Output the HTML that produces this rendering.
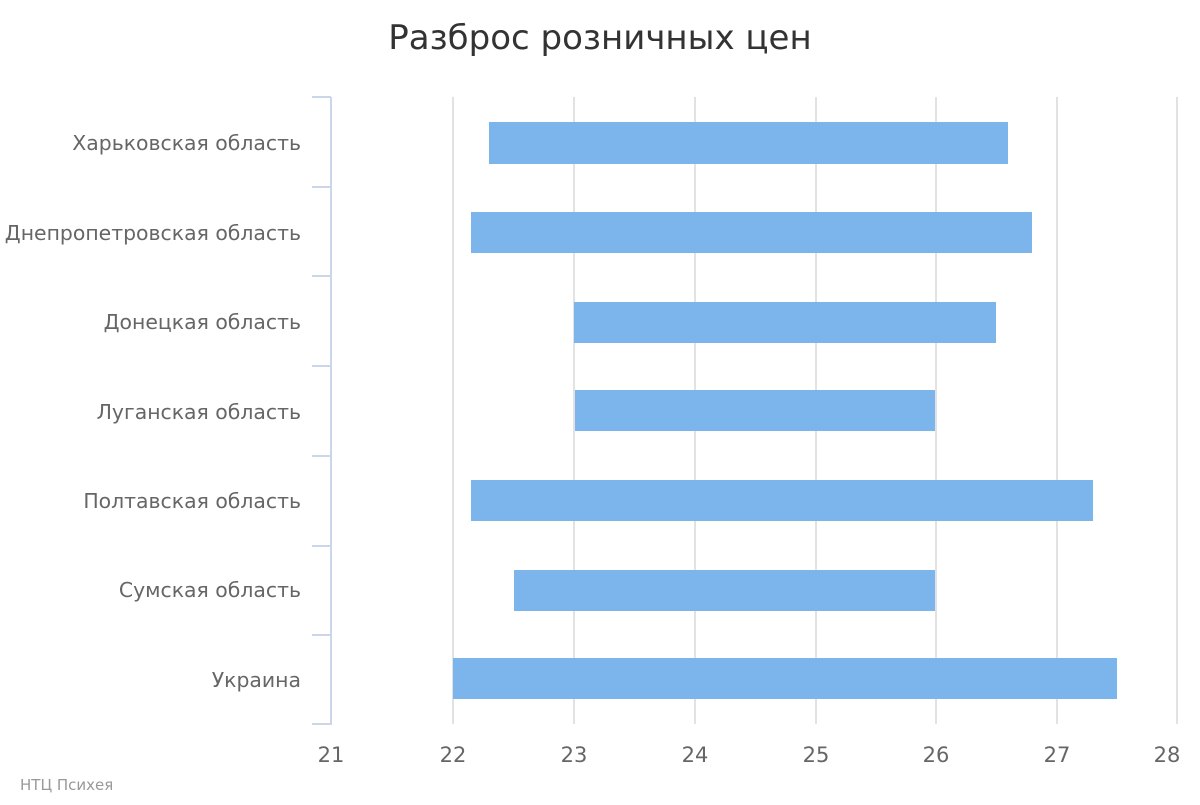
<!DOCTYPE html>
<html><head><meta charset="utf-8"><style>html,body{margin:0;padding:0;background:#fff}</style></head>
<body>
<svg width="1200" height="800" xmlns="http://www.w3.org/2000/svg" font-family="'DejaVu Sans','Liberation Sans',sans-serif">
<text x="600" y="49" text-anchor="middle" font-size="34" fill="#333">Разброс розничных цен</text>
<g stroke="#e2e2e2" stroke-width="2">
<line x1="453" y1="97" x2="453" y2="724"/><line x1="574" y1="97" x2="574" y2="724"/>
<line x1="695" y1="97" x2="695" y2="724"/><line x1="816" y1="97" x2="816" y2="724"/>
<line x1="936" y1="97" x2="936" y2="724"/><line x1="1057" y1="97" x2="1057" y2="724"/>
<line x1="1177" y1="97" x2="1177" y2="724"/>
</g>
<g stroke="#ccd6eb" stroke-width="2">
<line x1="331" y1="97" x2="331" y2="725"/>
<line x1="312" y1="97" x2="331" y2="97"/><line x1="312" y1="187" x2="331" y2="187"/>
<line x1="312" y1="276" x2="331" y2="276"/><line x1="312" y1="366" x2="331" y2="366"/>
<line x1="312" y1="456" x2="331" y2="456"/><line x1="312" y1="546" x2="331" y2="546"/>
<line x1="312" y1="635" x2="331" y2="635"/><line x1="312" y1="724" x2="331" y2="724"/>
</g>
<g fill="#7cb5ec">
<rect x="489" y="122" width="519" height="42"/>
<rect x="471" y="212" width="561" height="41"/>
<rect x="574" y="302" width="422" height="41"/>
<rect x="575" y="390" width="360" height="41"/>
<rect x="471" y="480" width="622" height="41"/>
<rect x="514" y="570" width="421" height="41"/>
<rect x="453" y="658" width="664" height="41"/>
</g>
<g font-size="20.4" fill="#666" text-anchor="end">
<text x="301" y="150">Харьковская область</text>
<text x="301" y="240">Днепропетровская область</text>
<text x="301" y="329">Донецкая область</text>
<text x="301" y="419">Луганская область</text>
<text x="301" y="508">Полтавская область</text>
<text x="301" y="597">Сумская область</text>
<text x="301" y="687">Украина</text>
</g>
<g font-size="21" fill="#666" text-anchor="middle">
<text x="331" y="762">21</text><text x="453" y="762">22</text><text x="574" y="762">23</text>
<text x="695" y="762">24</text><text x="816" y="762">25</text><text x="936" y="762">26</text>
<text x="1057" y="762">27</text><text x="1167" y="762">28</text>
</g>
<text x="20" y="790" font-size="15" fill="#999">НТЦ Психея</text>
</svg>
</body></html>
